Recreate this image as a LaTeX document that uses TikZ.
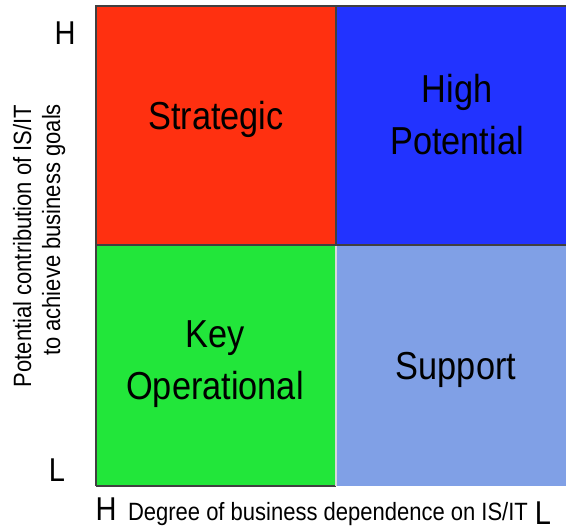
\documentclass[tikz,border=0pt]{standalone}
\usepackage{fontspec}
\setmainfont{Liberation Sans}[FakeStretch=0.88]
\usetikzlibrary{positioning}
\definecolor{stratred}{HTML}{FF3010}
\definecolor{highblue}{HTML}{2233FF}
\definecolor{keygreen}{HTML}{22E63A}
\definecolor{suppblue}{HTML}{80A0E6}

\begin{document}
\begin{tikzpicture}[x=1pt,y=-1pt,
        bigtxt/.style={font=\fontsize{39}{52}\selectfont, align=center},
        axistxt/.style={font=\fontsize{25}{30}\selectfont},
        marktxt/.style={font=\fontsize{33}{38}\selectfont},
        edge/.style={draw=black!75, line width=1.5pt}
    ]
        \useasboundingbox (0,0) rectangle (566,532);

        % quadrants
        \fill[stratred] (96,6) rectangle (336,245);
        \fill[highblue] (336,6) rectangle (570,245);
        \fill[keygreen] (96,245) rectangle (336,486);
        \fill[suppblue] (336,245) rectangle (570,486);

        % borders
        \draw[edge] (96,486) -- (96,6) -- (570,6);
        \draw[edge] (96,245) -- (570,245);
        \draw[edge] (336,6) -- (336,245);
        \draw[edge] (96,486) -- (336,486);
        \draw[black!15, line width=1.2pt] (336,246) -- (336,486);

        % quadrant labels
        \node[bigtxt, anchor=base] (strategic) at (216,130) {Strategic};
        \node[bigtxt] (highpot) at (457,115) {High\\Potential};
        \node[bigtxt] (keyop) at (215,364) {Key\\Operational};
        \node[bigtxt, anchor=base] (support) at (456,380) {Support};

        % axis ends
        \node[marktxt, anchor=base] (yhigh) at (65,45) {H};
        \node[marktxt, anchor=base] (ylow) at (57,482) {L};
        \node[marktxt, anchor=base] (xhigh) at (106,520) {H};
        \node[marktxt, anchor=base] (xlow) at (543,524) {L};

        % axis titles
        \node[axistxt, anchor=base] (xtitle) at (328,520) {Degree of business dependence on IS/IT};
        \node[axistxt, anchor=base, rotate=90] (ytitle1) at (31,246) {Potential contribution of IS/IT};
        \node[axistxt, anchor=base, rotate=90] (ytitle2) at (60,230) {to achieve business goals};
    \end{tikzpicture}
\end{document}
